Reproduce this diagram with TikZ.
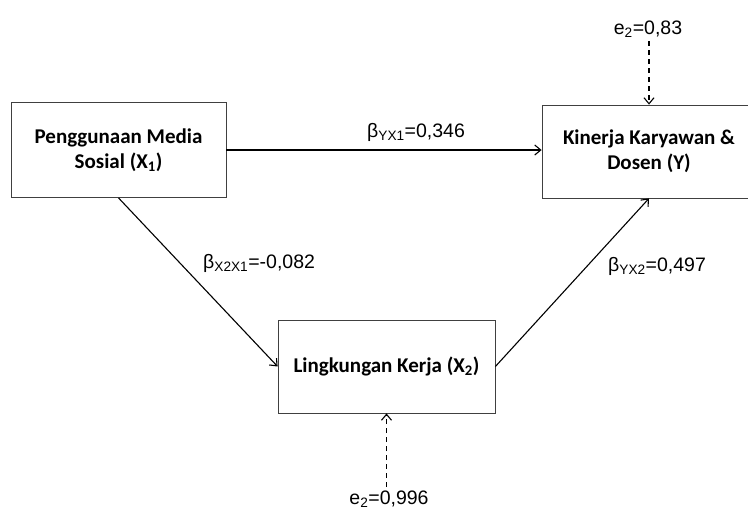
\documentclass[tikz,border=0pt]{standalone}
\usepackage{fontspec}
\setmainfont{Liberation Sans}
\newfontfamily\boxfont{Carlito}
\usetikzlibrary{arrows.meta}
\begin{document}
\begin{tikzpicture}[x=1pt,y=-1pt,
  varbox/.style={draw=black!75, line width=0.8pt, rectangle, align=center,
    inner sep=0pt, font=\boxfont\bfseries\fontsize{21}{25}\selectfont},
  path/.style={draw=black, line width=1.1pt, -{Straight Barb[length=6pt,width=10pt,line width=1.1pt]}},
  errpath/.style={path, dash pattern=on 5pt off 4pt},
  lbl/.style={font=\fontsize{19.5}{22}\selectfont, inner sep=0pt}]
\useasboundingbox (0,0) rectangle (748,512);
\node[varbox, minimum width=215pt, minimum height=95pt] (X1) at (118.5,150) {Penggunaan Media\\Sosial (X\textsubscript{1})};
\node[varbox, minimum width=214pt, minimum height=93pt] (Y) at (649,151.5) {Kinerja Karyawan \&\\Dosen (Y)};
\node[varbox, minimum width=217pt, minimum height=93pt] (X2) at (386.5,366.5) {Lingkungan Kerja (X\textsubscript{2})};
\node[lbl, anchor=base west] (b1) at (367,137) {β\textsubscript{YX1}=0,346};
\node[lbl, anchor=base west] (b2) at (203,268) {β\textsubscript{X2X1}=-0,082};
\node[lbl, anchor=base west] (b3) at (608,271) {β\textsubscript{YX2}=0,497};
\node[lbl, anchor=base] (e1) at (648,34) {e\textsubscript{2}=0,83};
\node[lbl, anchor=base] (e2) at (389,504) {e\textsubscript{2}=0,996};
\draw[path] (X1.east) -- (X1.east -| Y.west);
\draw[path] (X1.south) -- (X2.west);
\draw[path] (X2.east) -- (Y.south);
\draw[errpath] ([yshift=-4pt]e1.south -| Y.north) -- (Y.north);
\draw[errpath] ([yshift=3pt]e2.north -| X2.south) -- (X2.south);
\end{tikzpicture}
\end{document}
